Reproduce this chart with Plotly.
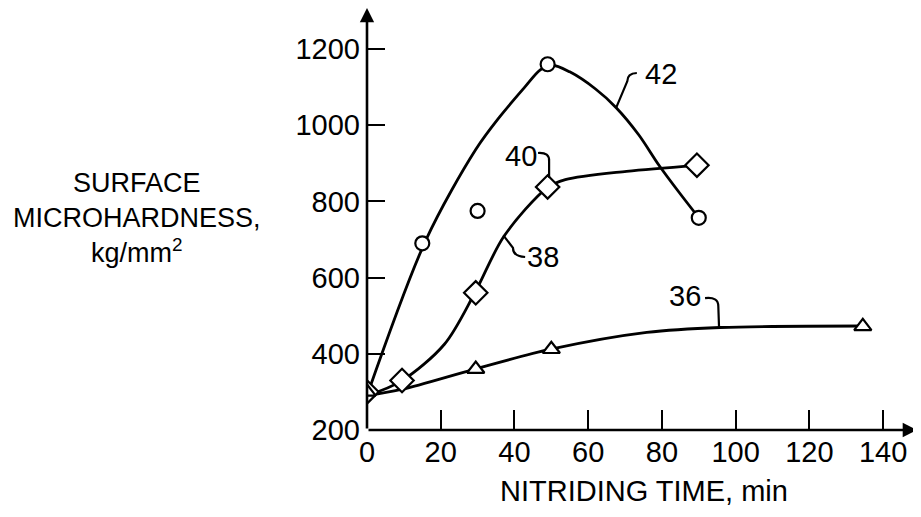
import plotly.graph_objects as go

# ---- data ----
t_42 = [0, 15, 30, 49, 90]
v_42 = [300, 690, 775, 1160, 757]
t_38 = [0, 9.5, 29.5, 49, 89.5]
v_38 = [300, 330, 560, 838, 895]
t_36 = [0, 29.5, 50, 134.5]
v_36 = [300, 360, 412, 472]

# smooth drawn curves
ct_42 = [0, 16, 29.5, 36.1, 42.8, 47, 50, 55, 62, 67.6, 73.7, 79.2, 84.8, 89.7]
cv_42 = [290, 699, 936, 1023, 1100, 1145, 1158, 1140, 1095, 1046, 975, 895, 822, 761]
ct_38 = [0, 9.4, 21, 29.2, 37.2, 48.8, 53.8, 70.4, 89.2]
cv_38 = [290, 329, 425, 559, 709, 835, 857, 879, 894]
ct_36 = [0, 9.6, 29.3, 49.9, 75.9, 95.8, 134.5]
cv_36 = [290, 307, 360, 412, 456, 469, 473]

x_ticks = [0, 20, 40, 60, 80, 100, 120, 140]
y_ticks = [200, 400, 600, 800, 1000, 1200]

labels = ["42", "40", "38", "36"]
label_t = [79.8, 41.8, 47.7, 86.3]
label_v = [1134, 919, 654, 552]

FONT = "Liberation Sans"
BLACK = "black"

fig = go.Figure()

for ct, cv in [(ct_42, cv_42), (ct_38, cv_38), (ct_36, cv_36)]:
    fig.add_trace(go.Scatter(x=ct, y=cv, mode="lines",
                             line=dict(color=BLACK, width=2.8, shape="spline", smoothing=0.9),
                             hoverinfo="skip", showlegend=False))

fig.add_trace(go.Scatter(x=t_42, y=v_42, mode="markers",
                         marker=dict(symbol="circle", size=14, color="white",
                                     line=dict(color=BLACK, width=2.2)),
                         showlegend=False))
fig.add_trace(go.Scatter(x=t_38, y=v_38, mode="markers",
                         marker=dict(symbol="diamond", size=18, color="white",
                                     line=dict(color=BLACK, width=2.2)),
                         showlegend=False))
fig.add_trace(go.Scatter(x=t_36, y=v_36, mode="markers",
                         marker=dict(symbol="triangle-up", size=15, color="white",
                                     line=dict(color=BLACK, width=2.2)),
                         showlegend=False))

# curve labels
for txt, tx, tv in zip(labels, label_t, label_v):
    fig.add_annotation(x=tx, y=tv, xref="x", yref="y", text=txt, showarrow=False,
                       xanchor="center", yanchor="middle",
                       font=dict(family=FONT, size=29, color=BLACK))

# leader lines
leaders = [
    "M 73.2,1137 Q 70.6,1136 70.6,1115 L 67.6,1046",
    "M 46.4,927 Q 49.6,929 49.4,905 L 49.4,862",
    "M 42.9,654 Q 39.6,656 39.6,678 L 37.0,711",
    "M 91.7,546 Q 95.3,550 95.3,525 L 95.5,470",
]
for p in leaders:
    fig.add_shape(type="path", path=p, xref="x", yref="y",
                  line=dict(color=BLACK, width=2.2))

Y_TOP = 1307.6
X_END = 149.2
# axis lines with arrowheads
fig.add_annotation(x=X_END, y=200, ax=0, ay=200, xref="x", yref="y", axref="x", ayref="y",
                   text="", showarrow=True, arrowhead=2, arrowsize=1.1, arrowwidth=2.6,
                   arrowcolor=BLACK, standoff=0, startstandoff=0)
fig.add_annotation(x=0, y=Y_TOP, ax=0, ay=200, xref="x", yref="y", axref="x", ayref="y",
                   text="", showarrow=True, arrowhead=2, arrowsize=1.1, arrowwidth=2.6,
                   arrowcolor=BLACK, standoff=0, startstandoff=0)

# y axis title
fig.add_annotation(x=(137 - 367) / 550, y=(430 - 218) / 422, xref="paper", yref="paper",
                   xanchor="center", yanchor="middle",
                   text="SURFACE<br>MICROHARDNESS,<br>kg/mm<sup>2</sup>", showarrow=False,
                   align="center", font=dict(family=FONT, size=27, color=BLACK))
# x axis title
fig.add_annotation(x=(644 - 367) / 550, y=-(491 - 430) / 422, xref="paper", yref="paper",
                   xanchor="center", yanchor="middle",
                   text="NITRIDING TIME, min", showarrow=False,
                   font=dict(family=FONT, size=29, color=BLACK))

fig.update_xaxes(range=[0, X_END], tickvals=x_ticks, ticktext=[str(v) for v in x_ticks],
                 ticks="inside", ticklen=20, tickwidth=2.4, tickcolor=BLACK,
                 showline=False, showgrid=False, zeroline=False, automargin=False,
                 tickfont=dict(family=FONT, size=29, color=BLACK), ticklabelstandoff=2)
fig.update_yaxes(range=[200, Y_TOP], tickvals=y_ticks, ticktext=[str(v) for v in y_ticks],
                 ticks="inside", ticklen=18, tickwidth=2.4, tickcolor=BLACK,
                 showline=False, showgrid=False, zeroline=False, automargin=False,
                 tickfont=dict(family=FONT, size=29, color=BLACK), ticklabelstandoff=6)

# page body has an 8px margin, so the figure is offset by (8, 8)
fig.update_layout(width=913, height=509, margin=dict(l=359, r=4, t=0, b=87),
                  plot_bgcolor="white", paper_bgcolor="white", showlegend=False)

fig.write_html("out.html")
